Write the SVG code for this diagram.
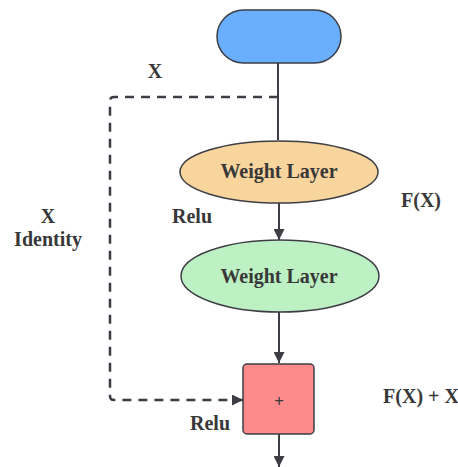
<svg xmlns="http://www.w3.org/2000/svg" width="458" height="467" viewBox="0 0 458 467">
  <style>
    .node { stroke: #3d3d45; stroke-width: 1.5; }
    .edge { fill: none; stroke: #3d3d45; stroke-width: 2; }
    .dash { stroke-width: 2.5; stroke-dasharray: 9 7; }
    text { font-family: "Liberation Serif", "Times New Roman", serif; font-weight: bold; fill: #383838; text-anchor: middle; }
    .lbl { font-size: 20px; }
    .in { font-size: 20px; }
  </style>
  <defs>
    <marker id="arrow" viewBox="0 0 10 10" refX="10" refY="5" markerWidth="11" markerHeight="11" markerUnits="userSpaceOnUse" orient="auto">
      <path d="M0,0 L10,5 L0,10 z" fill="#3d3d45"/>
    </marker>
  </defs>

  <g id="connectors">
    <path class="edge" d="M278,63 V140"/>
    <path class="edge" d="M279,203 V240" marker-end="url(#arrow)"/>
    <path class="edge" d="M279,312 V363" marker-end="url(#arrow)"/>
    <path class="edge" d="M279,434 V467" marker-end="url(#arrow)"/>
    <path class="edge dash" d="M278,97 H114 Q110,97 110,101 V396 Q110,400 114,400 H243" marker-end="url(#arrow)"/>
  </g>

  <g id="start">
    <rect class="node" x="217" y="10" width="124" height="53" rx="26.5" fill="#69affd"/>
  </g>

  <g id="weight1">
    <ellipse class="node" cx="279" cy="172" rx="99" ry="31" fill="#f9d59e"/>
    <text class="in" x="279" y="178">Weight Layer</text>
  </g>

  <g id="weight2">
    <ellipse class="node" cx="280" cy="276" rx="99" ry="36" fill="#bdf1c3"/>
    <text class="in" x="279" y="283">Weight Layer</text>
  </g>

  <g id="add">
    <rect class="node" x="243" y="364" width="71" height="70" rx="4" fill="#fe8b8b"/>
    <text x="279" y="407" style="font-size:17px">+</text>
  </g>

  <g id="labels">
    <text class="lbl" x="155" y="78">X</text>
    <text class="lbl" x="48" y="223">X</text>
    <text class="lbl" x="48" y="246">Identity</text>
    <text class="lbl" x="192" y="223">Relu</text>
    <text class="lbl" x="421" y="207">F(X)</text>
    <text class="lbl" x="421" y="403">F(X) + X</text>
    <text class="lbl" x="210" y="430">Relu</text>
  </g>
</svg>
